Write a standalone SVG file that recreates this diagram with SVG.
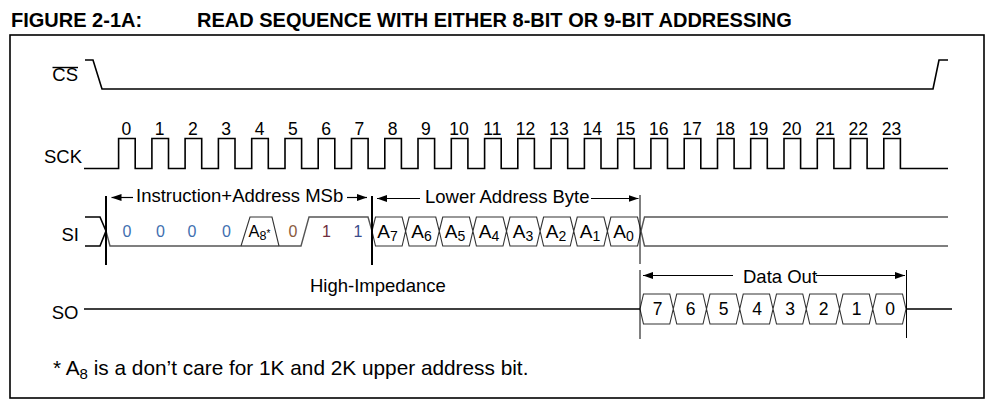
<svg xmlns="http://www.w3.org/2000/svg" width="998" height="410" viewBox="0 0 998 410">
<style>
text{font-family:"Liberation Sans",Arial,sans-serif;fill:#000}
.ttl{font-size:20px;font-weight:bold}
.lbl{font-size:18.5px}
.num{font-size:17.5px;text-anchor:middle}
.bit{font-size:16px;text-anchor:middle}
.hx{font-size:19px;text-anchor:middle}
.sig{fill:none;stroke:#000;stroke-width:1.6}
.bus{fill:none;stroke:#555;stroke-width:1.4}
.hex{fill:none;stroke:#333;stroke-width:1.1}
.mk{stroke:#000;stroke-width:2}
.mkt{stroke:#000;stroke-width:1}
.dim{stroke:#000;stroke-width:1.2}
</style>
<defs>
<marker id="ah" viewBox="0 0 10 7" refX="10" refY="3.5" markerWidth="10" markerHeight="7" orient="auto" markerUnits="userSpaceOnUse"><path d="M0,0 L10,3.5 L0,7 z" fill="#000"/></marker>
</defs>
<g id="title">
<text class="ttl" x="11" y="26.5">FIGURE 2-1A:</text>
<text class="ttl" x="197" y="26.5">READ SEQUENCE WITH EITHER 8-BIT OR 9-BIT ADDRESSING</text>
</g>
<rect id="frame" x="10" y="35" width="974" height="363" fill="none" stroke="#000" stroke-width="1.6"/>
<g id="cs">
<text class="lbl" x="78" y="81" text-anchor="end">CS</text>
<line x1="52.5" y1="67.5" x2="78" y2="67.5" stroke="#000" stroke-width="1.4"/>
<path class="sig" d="M85,60 H93 L102,89 H933 L939,60 H948"/>
</g>
<g id="sck">
<text class="lbl" x="82" y="163" text-anchor="end">SCK</text>
<path class="sig" stroke-width="2" d="M84,168.5 H118.6 V138.5 H135.2 V168.5 H151.9 V138.5 H168.5 V168.5 H185.1 V138.5 H201.7 V168.5 H218.4 V138.5 H235 V168.5 H251.7 V138.5 H268.3 V168.5 H285 V138.5 H301.6 V168.5 H318.2 V138.5 H334.8 V168.5 H351.5 V138.5 H368.1 V168.5 H384.8 V138.5 H401.4 V168.5 H418 V138.5 H434.6 V168.5 H451.3 V138.5 H467.9 V168.5 H484.6 V138.5 H501.2 V168.5 H517.8 V138.5 H534.4 V168.5 H551.1 V138.5 H567.7 V168.5 H584.4 V138.5 H601 V168.5 H617.7 V138.5 H634.3 V168.5 H650.9 V138.5 H667.5 V168.5 H684.2 V138.5 H700.8 V168.5 H717.5 V138.5 H734.1 V168.5 H750.7 V138.5 H767.3 V168.5 H784 V138.5 H800.6 V168.5 H817.3 V138.5 H833.9 V168.5 H850.5 V138.5 H867.1 V168.5 H883.8 V138.5 H900.4 V168.5 H948"/>
<g class="num">
<text class="num" x="126.4" y="135">0</text>
<text class="num" x="159.7" y="135">1</text>
<text class="num" x="192.9" y="135">2</text>
<text class="num" x="226.2" y="135">3</text>
<text class="num" x="259.5" y="135">4</text>
<text class="num" x="292.8" y="135">5</text>
<text class="num" x="326" y="135">6</text>
<text class="num" x="359.3" y="135">7</text>
<text class="num" x="392.6" y="135">8</text>
<text class="num" x="425.8" y="135">9</text>
<text class="num" x="459.1" y="135">10</text>
<text class="num" x="492.4" y="135">11</text>
<text class="num" x="525.6" y="135">12</text>
<text class="num" x="558.9" y="135">13</text>
<text class="num" x="592.2" y="135">14</text>
<text class="num" x="625.5" y="135">15</text>
<text class="num" x="658.7" y="135">16</text>
<text class="num" x="692" y="135">17</text>
<text class="num" x="725.3" y="135">18</text>
<text class="num" x="758.5" y="135">19</text>
<text class="num" x="791.8" y="135">20</text>
<text class="num" x="825.1" y="135">21</text>
<text class="num" x="858.3" y="135">22</text>
<text class="num" x="891.6" y="135">23</text>
</g>
</g>
<g id="si">
<text class="lbl" x="79" y="240.5" text-anchor="end">SI</text>
<path class="sig" stroke-width="1.2" d="M85,217 H100 L106,231 M85,246 H100 L106,231"/>
<path class="bus" d="M106,231 L110,246 H301 L309,217 H368 L372,231"/>
<path class="hex" d="M241,246 L250,217 H272 L279,246"/>
<path class="hex" d="M372,231 L375.5,217 L402.1,217 L405.6,231 L402.1,246 L375.5,246 Z M405.6,231 L409.1,217 L435.75,217 L439.25,231 L435.75,246 L409.1,246 Z M439.25,231 L442.75,217 L469.4,217 L472.9,231 L469.4,246 L442.75,246 Z M472.9,231 L476.4,217 L503,217 L506.5,231 L503,246 L476.4,246 Z M506.5,231 L510,217 L536.6,217 L540.1,231 L536.6,246 L510,246 Z M540.1,231 L543.6,217 L570.25,217 L573.75,231 L570.25,246 L543.6,246 Z M573.75,231 L577.25,217 L603.9,217 L607.4,231 L603.9,246 L577.25,246 Z M607.4,231 L610.9,217 L637.5,217 L641,231 L637.5,246 L610.9,246 Z"/>
<path class="bus" stroke="#333" d="M641,231 L644.5,217 H948 M641,231 L644.5,246 H948"/>
<text class="bit" x="127" y="237" style="fill:#3f6fb0">0</text>
<text class="bit" x="160.5" y="237" style="fill:#3f6fb0">0</text>
<text class="bit" x="192" y="237" style="fill:#3f6fb0">0</text>
<text class="bit" x="226.5" y="237" style="fill:#3f6fb0">0</text>
<text x="248.5" y="237" style="font-size:16.5px">A<tspan dy="3" style="font-size:12.5px">8</tspan><tspan dy="-3" style="font-size:10px">*</tspan></text>
<text class="bit" x="293" y="237" style="fill:#8a5a3c">0</text>
<text class="bit" x="326.5" y="237" style="fill:#6e2e3e">1</text>
<text class="bit" x="358" y="237" style="fill:#3a4c8c">1</text>
<text class="hx" x="387.5" y="238">A<tspan dy="3" style="font-size:14px">7</tspan></text>
<text class="hx" x="421.5" y="238">A<tspan dy="3" style="font-size:14px">6</tspan></text>
<text class="hx" x="455" y="238">A<tspan dy="3" style="font-size:14px">5</tspan></text>
<text class="hx" x="489" y="238">A<tspan dy="3" style="font-size:14px">4</tspan></text>
<text class="hx" x="523" y="238">A<tspan dy="3" style="font-size:14px">3</tspan></text>
<text class="hx" x="556" y="238">A<tspan dy="3" style="font-size:14px">2</tspan></text>
<text class="hx" x="590" y="238">A<tspan dy="3" style="font-size:14px">1</tspan></text>
<text class="hx" x="623.5" y="238">A<tspan dy="3" style="font-size:14px">0</tspan></text>
<line class="mk" x1="106" y1="196" x2="106" y2="265"/>
<line class="mk" x1="372" y1="196" x2="372" y2="265"/>
<line class="mkt" x1="640" y1="195" x2="640" y2="264"/>
</g>
<g id="so">
<text class="lbl" x="78.5" y="319" text-anchor="end">SO</text>
<text class="lbl" x="310" y="291.5">High-Impedance</text>
<path class="sig" stroke-width="1.3" d="M84,309 H640 M906,309 H952"/>
<path class="hex" d="M640,309 L643.5,294 L669.75,294 L673.25,309 L669.75,324 L643.5,324 Z M673.25,309 L676.75,294 L703,294 L706.5,309 L703,324 L676.75,324 Z M706.5,309 L710,294 L736.25,294 L739.75,309 L736.25,324 L710,324 Z M739.75,309 L743.25,294 L769.5,294 L773,309 L769.5,324 L743.25,324 Z M773,309 L776.5,294 L802.75,294 L806.25,309 L802.75,324 L776.5,324 Z M806.25,309 L809.75,294 L836,294 L839.5,309 L836,324 L809.75,324 Z M839.5,309 L843,294 L869.25,294 L872.75,309 L869.25,324 L843,324 Z M872.75,309 L876.25,294 L902.5,294 L906,309 L902.5,324 L876.25,324 Z"/>
<text class="num" x="657.5" y="314.5">7</text>
<text class="num" x="690.5" y="314.5">6</text>
<text class="num" x="723.5" y="314.5">5</text>
<text class="num" x="757" y="314.5">4</text>
<text class="num" x="790" y="314.5">3</text>
<text class="num" x="823.5" y="314.5">2</text>
<text class="num" x="856.5" y="314.5">1</text>
<text class="num" x="890" y="314.5">0</text>
<line class="mkt" x1="640" y1="270" x2="640" y2="339"/>
<line class="mkt" x1="906.5" y1="270" x2="906.5" y2="338"/>
</g>
<g id="connectors">
<line class="dim" x1="133" y1="197.5" x2="111.5" y2="197.5" marker-end="url(#ah)"/>
<line class="dim" x1="347" y1="197.5" x2="367" y2="197.5" marker-end="url(#ah)"/>
<line class="dim" x1="420" y1="198.5" x2="377" y2="198.5" marker-end="url(#ah)"/>
<line class="dim" x1="591" y1="198.5" x2="638.5" y2="198.5" marker-end="url(#ah)"/>
<line class="dim" x1="733" y1="275.5" x2="643" y2="275.5" marker-end="url(#ah)"/>
<line class="dim" x1="816" y1="275.5" x2="905" y2="275.5" marker-end="url(#ah)"/>
<text class="lbl" x="136" y="201.5">Instruction+Address MSb</text>
<text class="lbl" x="425" y="202.5">Lower Address Byte</text>
<text class="lbl" x="743" y="282.5">Data Out</text>
</g>
<g id="footnote">
<text x="53" y="375" style="font-size:20.8px">* A<tspan dy="4" style="font-size:15px">8</tspan><tspan dy="-4"> is a don’t care for 1K and 2K upper address bit.</tspan></text>
</g>
</svg>
